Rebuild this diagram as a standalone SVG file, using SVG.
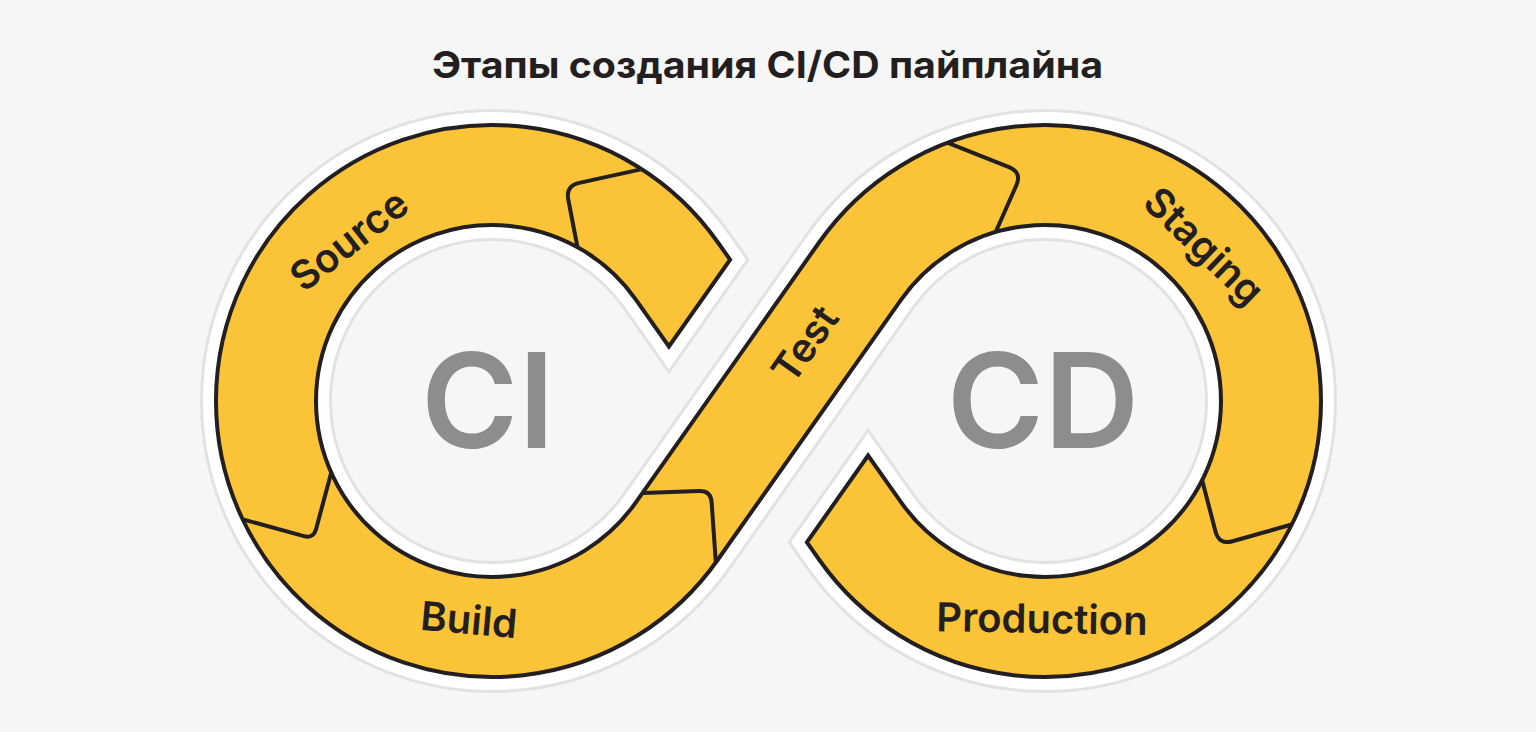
<svg xmlns="http://www.w3.org/2000/svg" width="1536" height="732" viewBox="0 0 1536 732">
<defs>
<path id="bandShape" d="M730.08 259.71 L717.59 241.99 A276 276 0 1 0 717.59 560.01 L901.14 299.6 A176 176 0 1 1 901.14 502.4 L868.08 455.49 L806.92 542.29 L819.41 560.01 A276 276 0 1 0 819.41 241.99 L635.86 502.4 A176 176 0 1 1 635.86 299.6 L668.92 346.51 Z"/>
<clipPath id="bandClip"><use href="#bandShape"/></clipPath>
</defs>
<style>
.halo1{fill:none;stroke:#e2e2e2;stroke-width:32;stroke-linejoin:miter}
.halo2{fill:none;stroke:#ffffff;stroke-width:26;stroke-linejoin:miter}
.fill{fill:#fbc337;stroke:none}
.edge{fill:none;stroke:#231f20;stroke-width:4;stroke-linejoin:miter}
.div{fill:none;stroke:#231f20;stroke-width:4;stroke-linejoin:round;stroke-linecap:round}
.lbl{font-family:Inter,"Noto Sans","Liberation Sans",sans-serif;font-weight:600;font-size:40px;fill:#231f20;text-anchor:middle}
.big{font-family:Inter,"Noto Sans","Liberation Sans",sans-serif;font-weight:600;font-size:132px;fill:#8e8d8e;text-anchor:middle}
.title{font-family:Inter,"Noto Sans","Liberation Sans",sans-serif;font-weight:700;font-size:37px;fill:#231f20}
</style>
<rect x="0" y="0" width="1536" height="732" fill="#f6f6f6"/>
<g id="title"><text class="title" x="432" y="78" textLength="671" lengthAdjust="spacingAndGlyphs">Этапы создания CI/CD пайплайна</text></g>
<g id="band">
<use href="#bandShape" class="halo1"/>
<use href="#bandShape" class="halo2"/>
<use href="#bandShape" class="fill"/>
</g>
<g id="connectors" clip-path="url(#bandClip)">
<path class="div" d="M236 517.5 L303.9 536.1 Q313.5 538.7 316.1 529 L333 466"/>
<path class="div" d="M630 493.5 L699 491 Q710.8 490.6 711.6 502 L716.5 572"/>
<path class="div" d="M650 167.4 L579.3 182.9 Q565.6 185.9 568.3 199.6 L578.6 253"/>
<path class="div" d="M941 140.2 L1009 167.2 Q1022 172.4 1016.4 185.2 L993 238"/>
<path class="div" d="M1200 472 L1215.5 531.5 Q1219 545 1232.5 541.2 L1302 521.6"/>
</g>
<g id="outline"><use href="#bandShape" class="edge"/></g>
<g id="ci"><text class="big" x="488" y="448">CI</text></g>
<g id="cd"><text class="big" x="1043" y="448">CD</text></g>
<g id="source"><text class="lbl" transform="translate(349 240) rotate(-38)" x="0" y="14">Source</text></g>
<g id="build"><text class="lbl" transform="translate(469 620) rotate(5)" x="0" y="14">Build</text></g>
<g id="test"><text class="lbl" transform="translate(805 344) rotate(-54.8)" x="0" y="14">Test</text></g>
<g id="staging"><text class="lbl" transform="translate(1204 246) rotate(44)" x="0" y="14">Staging</text></g>
<g id="production"><text class="lbl" transform="translate(1042 619) rotate(1)" x="0" y="14">Production</text></g>
</svg>
